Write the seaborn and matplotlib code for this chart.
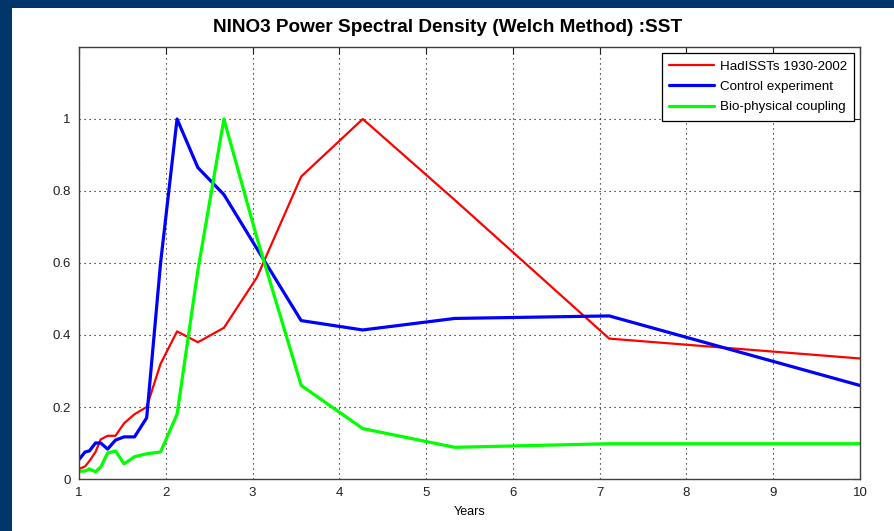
import pandas as pd
import matplotlib
matplotlib.use('Agg')
import matplotlib.pyplot as plt
import seaborn as sns
from matplotlib.patches import Rectangle

# Welch periods (years) and normalised PSD for each run
periods = [10.67, 7.11, 5.33, 4.27, 3.56, 3.05, 2.67, 2.37, 2.13, 1.94, 1.78,
           1.64, 1.52, 1.42, 1.33, 1.25, 1.19, 1.12, 1.07, 1.02, 0.97]
hadisst = [0.322, 0.39, 0.775, 1.0, 0.84, 0.56, 0.42, 0.38, 0.41, 0.32, 0.20,
           0.18, 0.155, 0.12, 0.12, 0.11, 0.075, 0.05, 0.035, 0.03, 0.025]
control = [0.215, 0.453, 0.446, 0.414, 0.44, 0.64, 0.79, 0.865, 1.0, 0.6, 0.17,
           0.117, 0.117, 0.108, 0.083, 0.10, 0.10, 0.078, 0.075, 0.06, 0.045]
biophys = [0.098, 0.098, 0.088, 0.14, 0.26, 0.67, 1.0, 0.58, 0.18, 0.075, 0.07,
           0.062, 0.042, 0.078, 0.072, 0.033, 0.02, 0.028, 0.022, 0.022, 0.02]

labels = ['HadISSTs 1930-2002', 'Control experiment', 'Bio-physical coupling']
colors = ['#ff0000', '#0000ff', '#00ff00']
widths = [1.6, 2.3, 2.3]

df = pd.DataFrame({
    'Years': periods * 3,
    'PSD': hadisst + control + biophys,
    'Run': [labels[0]] * len(periods) + [labels[1]] * len(periods) + [labels[2]] * len(periods),
})

sns.set_style("white")
plt.rcParams['font.family'] = ['Liberation Sans', 'DejaVu Sans']
plt.rcParams['text.color'] = 'black'
plt.rcParams['axes.labelcolor'] = 'black'

fig = plt.figure(figsize=(8.95, 5.31), dpi=100)
fig.patch.set_facecolor('#00366a')
# white panel, navy strip left and top
fig.patches.append(Rectangle((12 / 895, 0), 1, 1 - 8 / 531, transform=fig.transFigure,
                             facecolor='white', edgecolor='none', zorder=-10))

ax = fig.add_axes([79 / 895, 1 - 479 / 531, (860 - 79) / 895, (479 - 47) / 531])
ax.set_facecolor('white')
for lab, col, lw in zip(labels, colors, widths):
    sub = df[df['Run'] == lab]
    sns.lineplot(data=sub, x='Years', y='PSD', sort=False, color=col, linewidth=lw,
                 label=lab, ax=ax, errorbar=None)

ax.set_xlim(1, 10)
ax.set_ylim(0, 1.2)
ax.set_xticks(range(1, 11))
ax.set_yticks([0, 0.2, 0.4, 0.6, 0.8, 1])
ax.set_yticklabels(['0', '0.2', '0.4', '0.6', '0.8', '1'])
ax.tick_params(direction='in', length=5, width=0.8, top=True, right=True,
               labelsize=9.5, pad=6, colors='#202020')
ax.grid(True, linestyle=(0, (1, 3.5)), color='black', linewidth=0.8)
for sp in ax.spines.values():
    sp.set_color('#404040')
    sp.set_linewidth(1)
ax.set_xlabel('Years', fontsize=9, labelpad=5)
ax.set_ylabel('')

leg = ax.legend(loc='upper right', fontsize=9.6, handlelength=3.4, handletextpad=0.4,
                labelspacing=0.6, borderpad=0.55, borderaxespad=0.45,
                fancybox=False, framealpha=1, edgecolor='black')
leg.get_frame().set_linewidth(0.9)

fig.text(0.5, 1 - 27 / 531, 'NINO3 Power Spectral Density (Welch Method) :SST',
         ha='center', va='center', fontsize=13.7, fontweight='bold', color='black')

fig.savefig('out.png', dpi=100, facecolor=fig.get_facecolor())
